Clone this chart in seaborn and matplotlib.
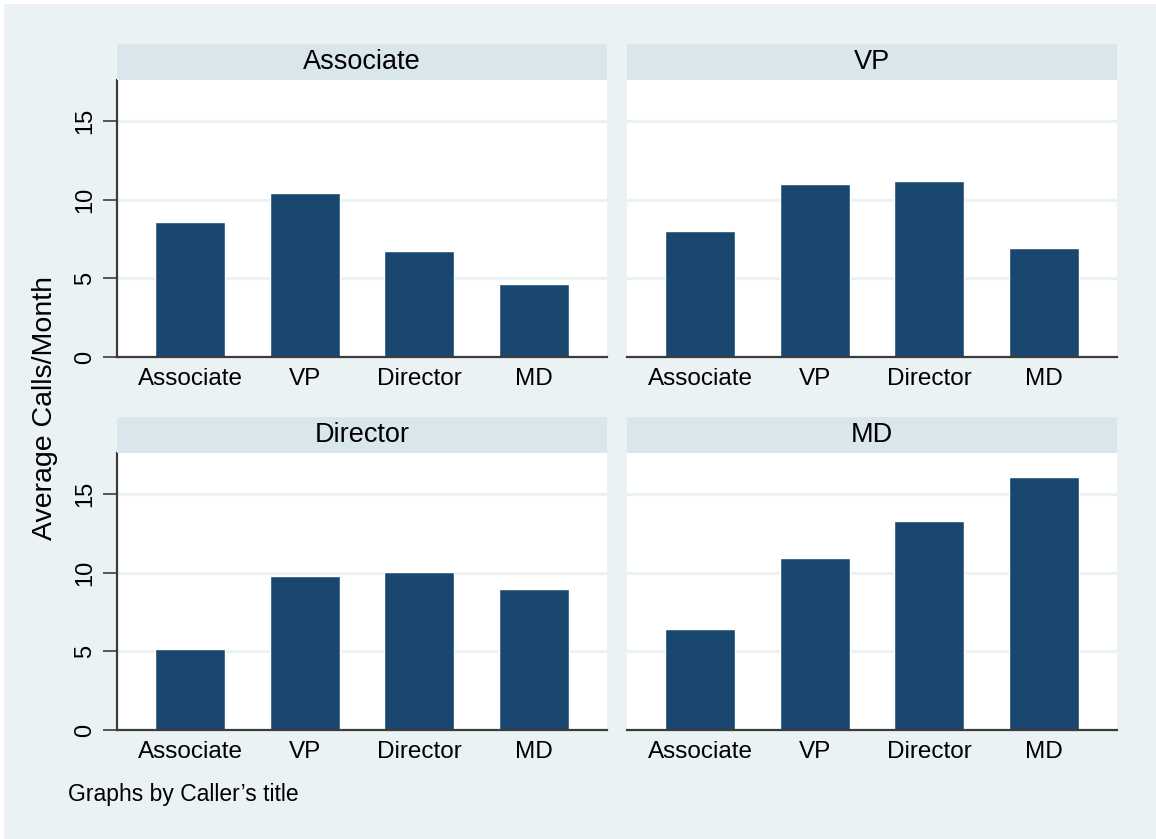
import matplotlib
matplotlib.use('Agg')
import matplotlib.pyplot as plt
import matplotlib.patches as mpatches
import pandas as pd
import seaborn as sns

# === Data ===
callers = ['Associate', 'VP', 'Director', 'MD']
receivers = ['Associate', 'VP', 'Director', 'MD']
calls_associate = [8.58, 10.43, 6.74, 4.66]
calls_vp = [8.01, 10.98, 11.19, 6.93]
calls_director = [5.14, 9.80, 10.01, 8.95]
calls_md = [6.41, 10.92, 13.29, 16.08]
y_ticks = [0, 5, 10, 15]

df = pd.DataFrame({
    'caller': [c for c in callers for _ in receivers],
    'receiver': receivers * len(callers),
    'calls': calls_associate + calls_vp + calls_director + calls_md,
})

# === Style ===
sns.set_theme(style='white')
plt.rcParams['font.family'] = ['Liberation Sans', 'DejaVu Sans']
plt.rcParams['text.color'] = 'black'
plt.rcParams['xtick.color'] = 'black'
plt.rcParams['ytick.color'] = 'black'

BG = '#eaf2f3'
STRIP = '#d9e6eb'
BAR = '#1a476f'
AXIS = '#3c3c3c'

W, H = 1156, 839
fig = plt.figure(figsize=(W / 100, H / 100), dpi=100, facecolor='white')
fig.patches.append(mpatches.Rectangle((4 / W, 0), 1, 1 - 4 / H, transform=fig.transFigure,
                                      facecolor=BG, edgecolor='none', zorder=-10))

# panel geometry in pixels (left, top of plot area)
ax_w, ax_h, strip_h = 490, 277, 36
panels = [(117, 80), (627, 80), (117, 453), (627, 453)]

for i, (caller, (px, py)) in enumerate(zip(callers, panels)):
    ax = fig.add_axes([px / W, 1 - (py + ax_h) / H, ax_w / W, ax_h / H])
    sub = df[df['caller'] == caller]
    sns.barplot(data=sub, x='receiver', y='calls', order=receivers, color=BAR,
                saturation=1, width=0.61, ax=ax, zorder=3)
    ax.set_facecolor('white')
    ax.set_xlim(-0.64, 3.64)
    ax.set_ylim(0, 17.6)
    ax.set_yticks(y_ticks)
    for t in y_ticks[1:]:
        ax.axhline(t, color=BG, lw=2.2, zorder=1)
    ax.set_xlabel('')
    ax.set_ylabel('')
    for s in ['top', 'right']:
        ax.spines[s].set_visible(False)
    ax.spines['bottom'].set_color(AXIS)
    ax.spines['bottom'].set_linewidth(1.6)
    ax.spines['bottom'].set_zorder(5)
    ax.tick_params(axis='x', length=0, pad=8, labelsize=17.5, labelcolor='black')
    if i % 2 == 0:
        ax.spines['left'].set_color(AXIS)
        ax.spines['left'].set_linewidth(1.6)
        ax.tick_params(axis='y', left=True, length=10, width=1.2, color=AXIS,
                       labelsize=17, pad=5, labelrotation=90, labelcolor='black')
        for lab in ax.get_yticklabels():
            lab.set_verticalalignment('center')
    else:
        ax.spines['left'].set_visible(False)
        ax.tick_params(axis='y', left=False, labelleft=False)

    # strip header
    sax = fig.add_axes([px / W, 1 - py / H, ax_w / W, strip_h / H])
    sax.set_facecolor(STRIP)
    sax.set_xticks([])
    sax.set_yticks([])
    for s in sax.spines.values():
        s.set_visible(False)
    sax.text(0.5, 0.5, caller, ha='center', va='center', fontsize=19.5,
             color='black', transform=sax.transAxes)

fig.text(45 / W, 1 - 408 / H, 'Average Calls/Month', rotation=90, ha='center',
         va='center', fontsize=20.5, color='black')
fig.text(68 / W, 1 - 795 / H, 'Graphs by Caller\u2019s title', ha='left', va='center',
         fontsize=16.5, color='black')

fig.savefig('out.png', dpi=100, facecolor=fig.get_facecolor())
